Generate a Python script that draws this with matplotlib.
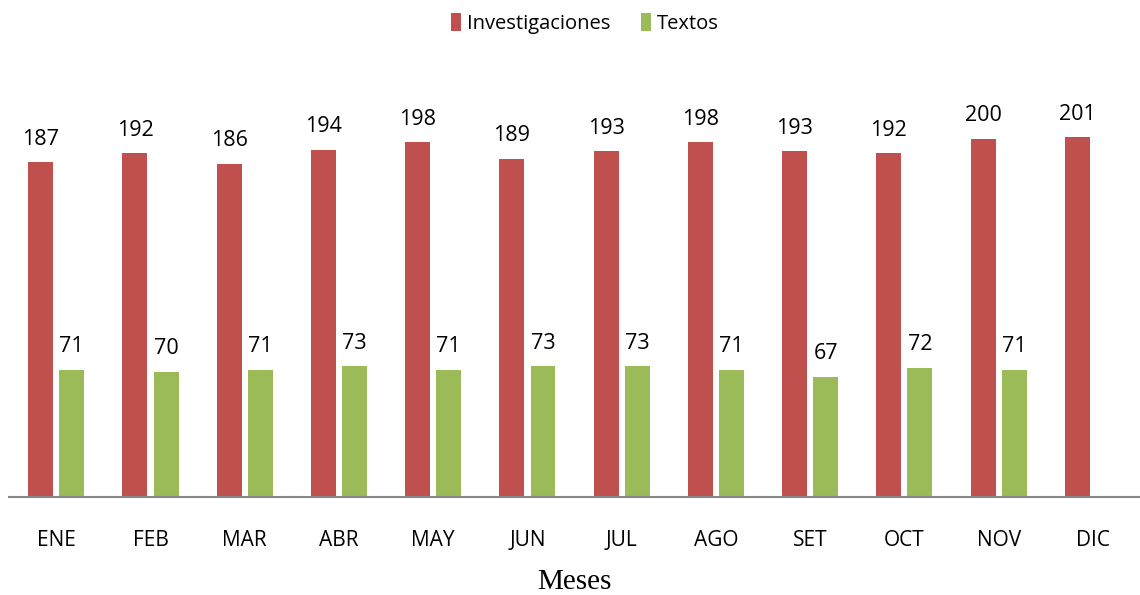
import numpy as np
import matplotlib
matplotlib.use("Agg")
import matplotlib.pyplot as plt

meses = ["ENE", "FEB", "MAR", "ABR", "MAY", "JUN", "JUL", "AGO", "SET", "OCT", "NOV", "DIC"]
investigaciones = [187, 192, 186, 194, 198, 189, 193, 198, 193, 192, 200, 201]
textos = [71, 70, 71, 73, 71, 73, 73, 71, 67, 72, 71, None]

rojo = "#C0504D"
verde = "#9BBB59"

plt.rcParams['font.family'] = ['Open Sans', 'DejaVu Sans']

fig = plt.figure(figsize=(11.4, 5.95), dpi=100)
ax = fig.add_axes([0.008, 0.165, 0.992, 0.752])

x = np.arange(len(meses))
w = 0.265
off = 0.165

b1 = ax.bar(x - off, investigaciones, w, color=rojo, label="Investigaciones")
for xi, v in zip(x, investigaciones):
    ax.text(xi - off, v + 7, str(v), ha="center", va="bottom", fontsize=15.5)

# DIC no tiene dato de textos
xt = [xi for xi, v in zip(x, textos) if v is not None]
vt = [v for v in textos if v is not None]
b2 = ax.bar(np.array(xt) + off, vt, w, color=verde, label="Textos")
for xi, v in zip(xt, vt):
    ax.text(xi + off, v + 7, str(v), ha="center", va="bottom", fontsize=15.5)

ax.set_xlim(-0.5, len(meses) - 0.5)
ax.set_ylim(0, 250)
ax.set_yticks([])
for s in ["top", "right", "left"]:
    ax.spines[s].set_visible(False)
ax.spines["bottom"].set_color("#868686")
ax.spines["bottom"].set_linewidth(1.5)
ax.set_xticks(x)
ax.set_xticklabels(meses, fontsize=15)
ax.tick_params(axis="x", length=0, pad=24)
ax.set_xlabel("Meses", fontsize=21, family="Liberation Serif", labelpad=13)

fig.legend(handles=[b1, b2], loc="upper center", bbox_to_anchor=(0.513, 1.008), ncol=2,
           frameon=False, fontsize=14.5, handlelength=0.5, handleheight=1.0,
           handletextpad=0.3, columnspacing=1.5)

fig.savefig("out.png", dpi=100)
